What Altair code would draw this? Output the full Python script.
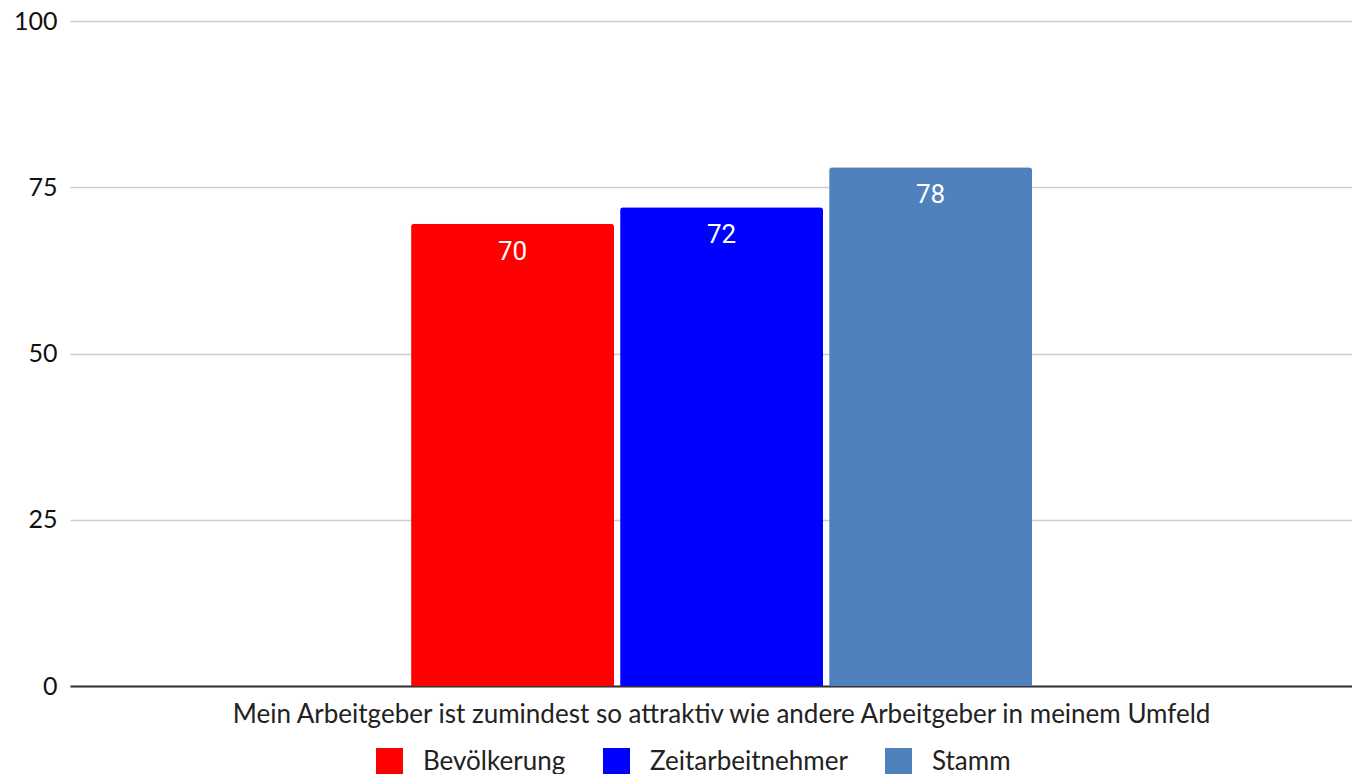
import altair as alt
import pandas as pd

category = "Mein Arbeitgeber ist zumindest so attraktiv wie andere Arbeitgeber in meinem Umfeld"
series = ["Bevölkerung", "Zeitarbeitnehmer", "Stamm"]
values = [69.5, 72, 78]
colors = ["#ff0000", "#0000ff", "#4f81bd"]
y_ticks = [0, 25, 50, 75, 100]

df = pd.DataFrame({"cat": [category] * 3, "series": series, "value": values})

FONT = "Lato"

x_enc = alt.X(
    "cat:N",
    title=None,
    scale=alt.Scale(paddingInner=0, paddingOuter=0.5322, align=0.516),
    axis=alt.Axis(
        labelFontSize=26, labelFont=FONT, labelColor="#222222", labelAngle=0,
        labelPadding=15, ticks=False, domain=True, domainColor="#333333",
        domainWidth=2, labelLimit=2000, grid=False,
    ),
)
xoff = alt.XOffset(
    "series:N", sort=series,
    scale=alt.Scale(paddingInner=0.029, paddingOuter=0),
)
y_enc = alt.Y(
    "value:Q",
    title=None,
    scale=alt.Scale(domain=[0, 100], nice=False),
    axis=alt.Axis(
        values=y_ticks, labelFontSize=25, labelFont=FONT, labelColor="#111111",
        labelPadding=13, ticks=False, domain=False,
        gridColor="#cccccc", gridWidth=1.5,
    ),
)

bars = alt.Chart(df).mark_bar(cornerRadiusTopLeft=3, cornerRadiusTopRight=3).encode(
    x=x_enc,
    xOffset=xoff,
    y=y_enc,
    color=alt.Color(
        "series:N",
        sort=series,
        scale=alt.Scale(domain=series, range=colors),
        legend=alt.Legend(
            title=None, orient="none", legendX=306, legendY=727,
            direction="horizontal", symbolType="square", symbolSize=729,
            symbolStrokeWidth=0, labelFontSize=26, labelFont=FONT,
            labelColor="#222222", labelOffset=20, columnPadding=37, padding=0,
            labelLimit=500,
        ),
    ),
)

labels = alt.Chart(df).mark_text(
    baseline="middle", align="center", dy=28, color="white",
    font="Roboto", fontSize=26,
).encode(
    x=x_enc,
    xOffset=xoff,
    y=y_enc,
    text=alt.Text("value:Q", format=".0f"),
)

chart = alt.layer(bars, labels).properties(
    width=1282,
    height=665,
    padding={"left": 62, "top": 13, "right": 0, "bottom": 88},
    autosize=alt.AutoSizeParams(type="none"),
    background="white",
).configure_view(
    stroke="transparent", strokeWidth=0
)

chart.save("out.html", embed_options={"renderer": "svg", "actions": False})
